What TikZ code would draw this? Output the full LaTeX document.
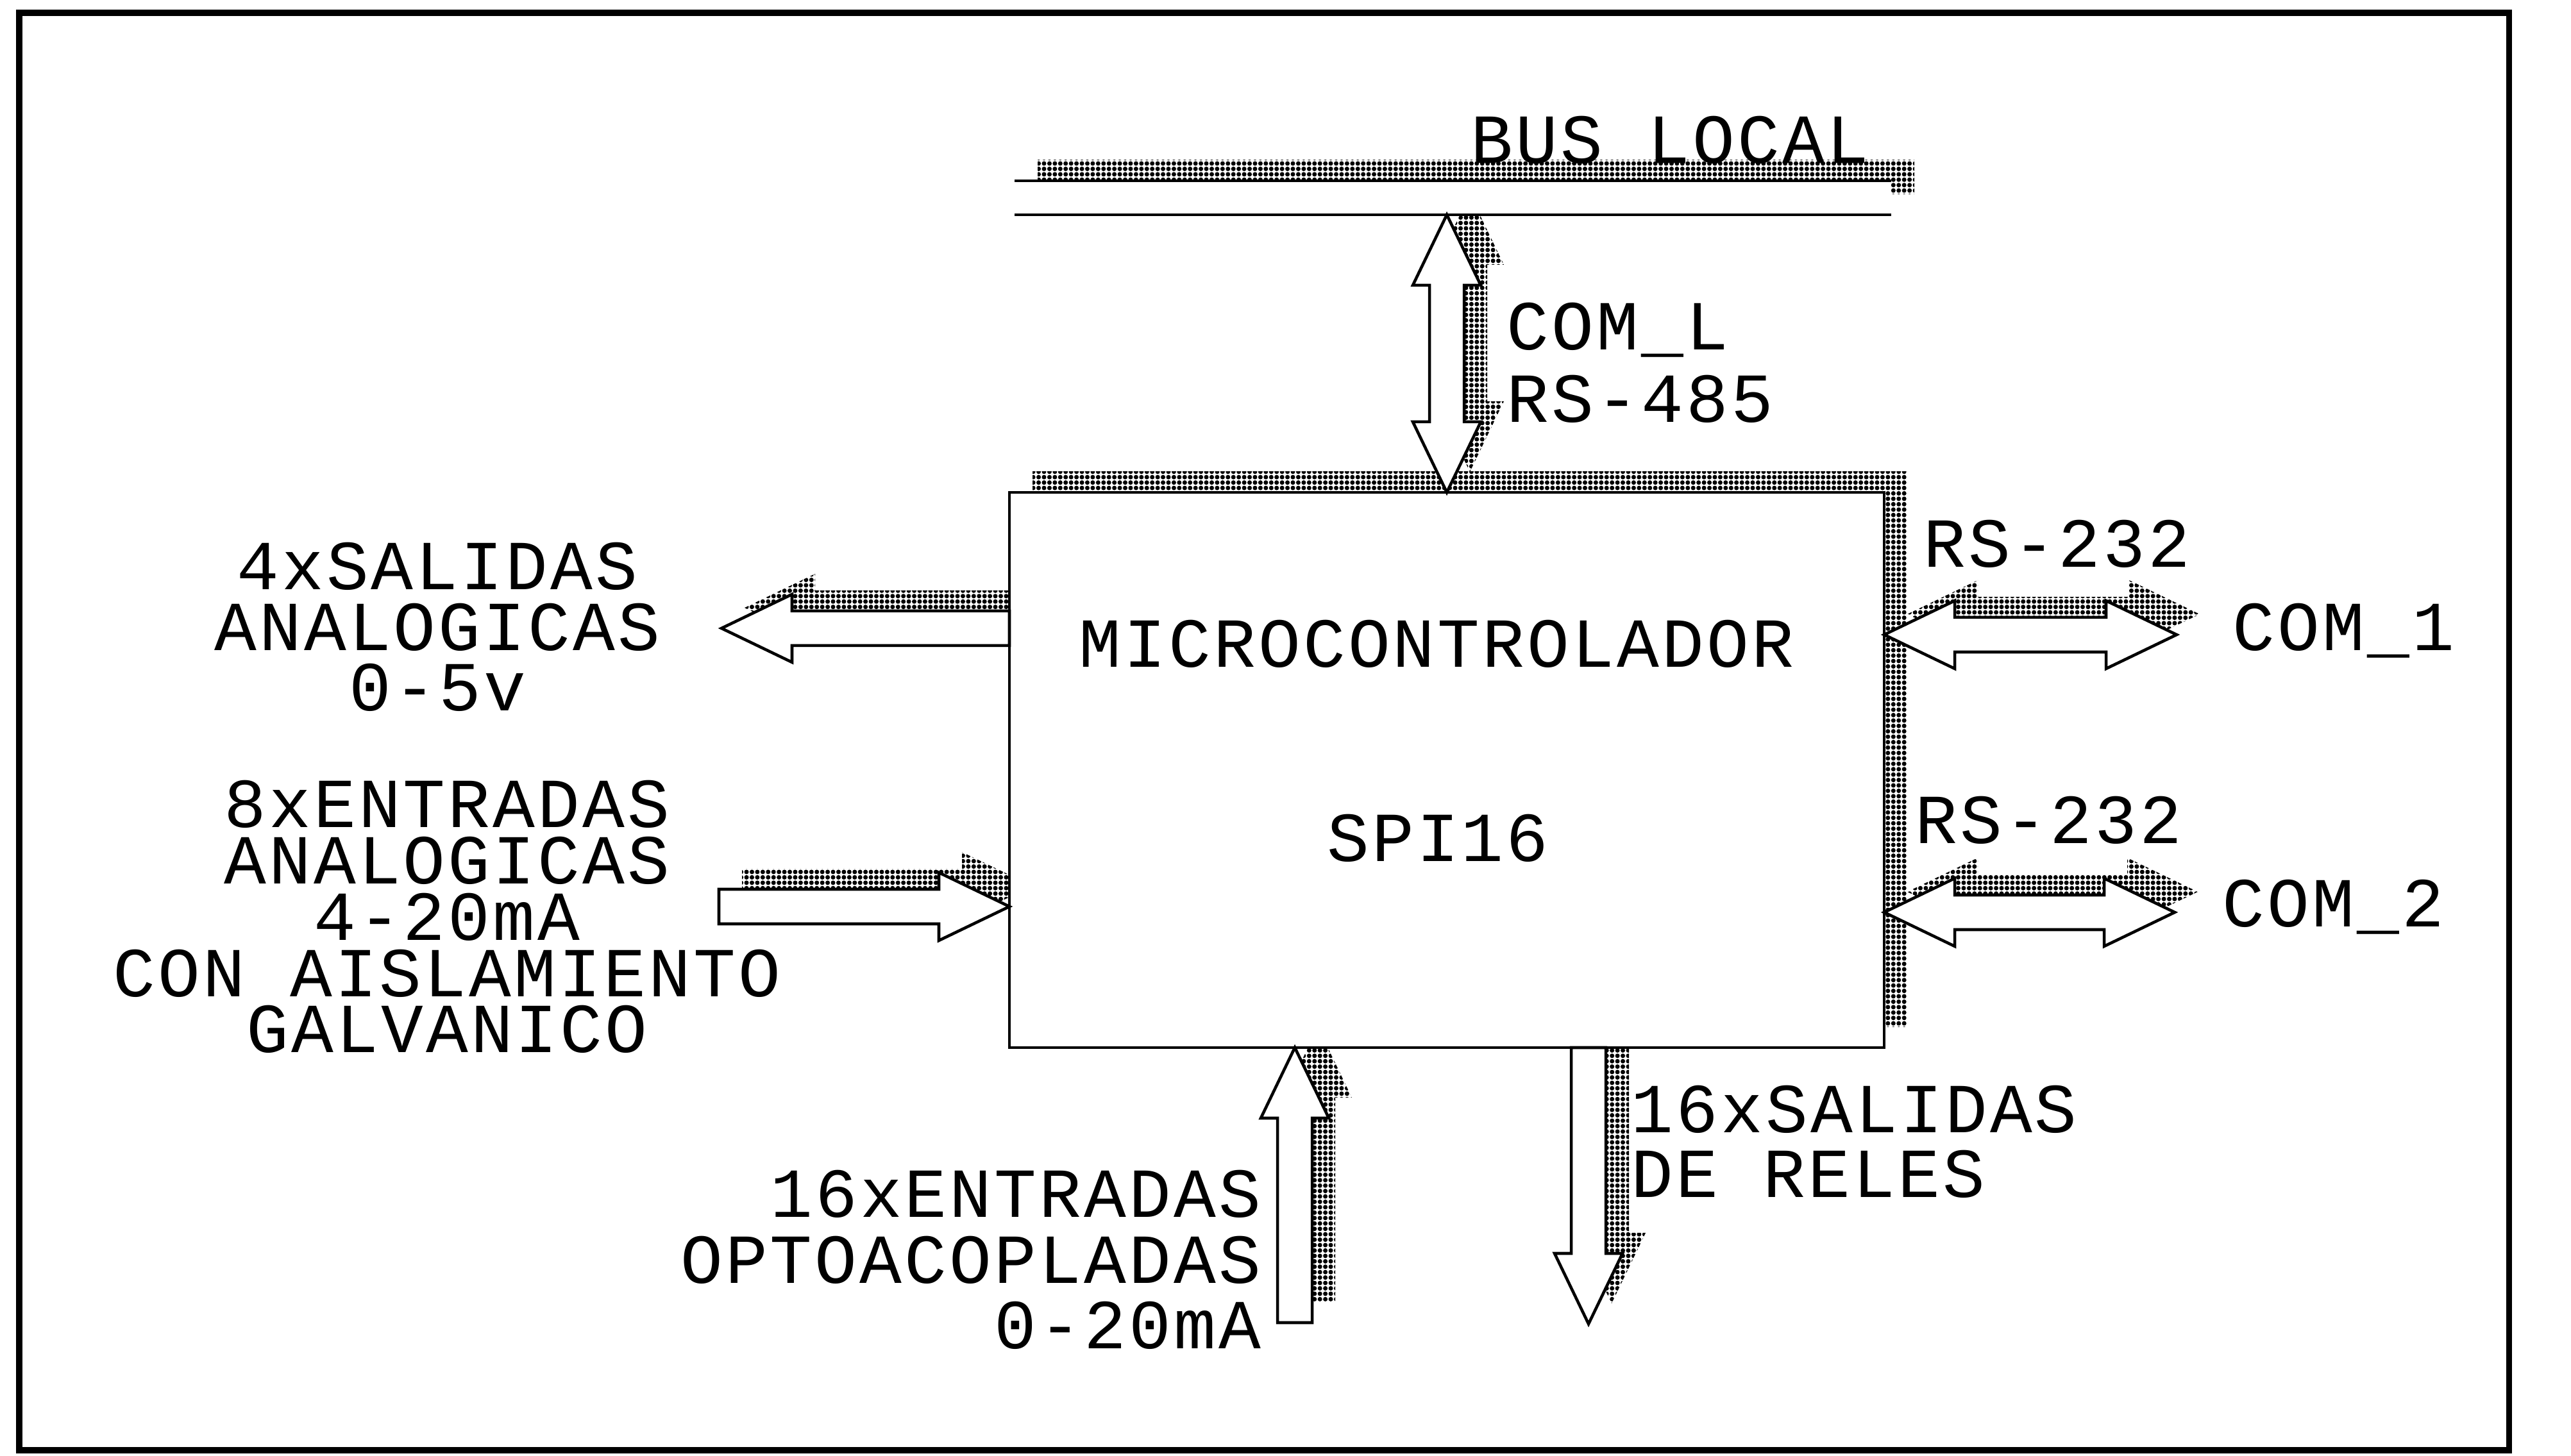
\documentclass[tikz,border=0pt]{standalone}
\usepackage{fontspec}
\setmainfont{Liberation Mono}[LetterSpace=3.8]
\usetikzlibrary{calc,patterns.meta}
\pgfdeclarelayer{shade}
\pgfsetlayers{shade,main}

\newcommand\ashaft{1.35mm}
\newcommand\ahead{2.65mm}
\newcommand\alen{5.5mm}

\newcommand\dropshade[1]{%
  \begin{pgfonlayer}{shade}\fill[dropfill] #1;\end{pgfonlayer}
  \filldraw[blk] #1;}

% #1 name, #2 tail, #3 tip
\newcommand\blockarrow[3]{%
  \coordinate (#1t1) at ($(#2)!\ashaft!90:(#3)$);
  \coordinate (#1b1) at ($(#3)!\alen!(#2)!\ashaft!90:(#3)$);
  \coordinate (#1h1) at ($(#3)!\alen!(#2)!\ahead!90:(#3)$);
  \coordinate (#1h2) at ($(#3)!\alen!(#2)!\ahead!-90:(#3)$);
  \coordinate (#1b2) at ($(#3)!\alen!(#2)!\ashaft!-90:(#3)$);
  \coordinate (#1t2) at ($(#2)!\ashaft!-90:(#3)$);
  \dropshade{(#1t1) -- (#1b1) -- (#1h1) -- (#3) -- (#1h2) -- (#1b2) -- (#1t2) -- cycle}}

% #1 name, #2 and #3 the two tips
\newcommand\blockdouble[3]{%
  \coordinate (#1p2) at ($(#2)!\alen!(#3)!\ahead!90:(#3)$);
  \coordinate (#1p3) at ($(#2)!\alen!(#3)!\ashaft!90:(#3)$);
  \coordinate (#1p4) at ($(#3)!\alen!(#2)!\ashaft!90:(#3)$);
  \coordinate (#1p5) at ($(#3)!\alen!(#2)!\ahead!90:(#3)$);
  \coordinate (#1p7) at ($(#3)!\alen!(#2)!\ahead!-90:(#3)$);
  \coordinate (#1p8) at ($(#3)!\alen!(#2)!\ashaft!-90:(#3)$);
  \coordinate (#1p9) at ($(#2)!\alen!(#3)!\ashaft!-90:(#3)$);
  \coordinate (#1p10) at ($(#2)!\alen!(#3)!\ahead!-90:(#3)$);
  \dropshade{(#2) -- (#1p2) -- (#1p3) -- (#1p4) -- (#1p5) -- (#3) -- (#1p7) -- (#1p8) -- (#1p9) -- (#1p10) -- cycle}}

\begin{document}
\begin{tikzpicture}[x=.5cm,y=.5cm,
    blk/.style={draw=black,fill=white,line width=.65pt},
    dropfill/.style={pattern={Dots[radius=.5pt,distance=1.2pt]},pattern color=black,
      transform canvas={xshift=1.8mm,yshift=1.6mm}},
    lbl/.style={font=\fontsize{15.6}{#1}\selectfont,inner sep=0pt},
    lbl/.default=14.5]
  \useasboundingbox (0,0) rectangle (40.09,22.71);
  \draw[line width=1.3pt] (.30,.09) rectangle (39.12,22.51);

  \node[minimum width=6.82cm,minimum height=4.33cm,inner sep=0pt,outer sep=0pt] (mcu) at (22.56,10.70) {};
  \dropshade{(mcu.south west) rectangle (mcu.north east)}

  \node[minimum width=6.835cm,minimum height=.265cm,inner sep=0pt,outer sep=0pt] (bus) at (22.655,19.625) {};
  \begin{pgfonlayer}{shade}\fill[dropfill] (bus.south west) rectangle (bus.north east);\end{pgfonlayer}
  \fill[white] (bus.south west) rectangle (bus.north east);
  \draw[line width=.65pt] (bus.north west) -- (bus.north east) (bus.south west) -- (bus.south east);

  \coordinate (comlA) at (mcu.north);
  \coordinate (comlB) at (mcu.north |- bus.south);
  \blockdouble{coml}{comlA}{comlB}

  \coordinate (aoutT) at (mcu.west |- 0,12.91);
  \coordinate (aoutP) at (11.25,12.91);
  \blockarrow{aout}{aoutT}{aoutP}
  \coordinate (ainT) at (11.21,8.57);
  \coordinate (ainP) at (mcu.west |- 0,8.57);
  \blockarrow{ain}{ainT}{ainP}
  \coordinate (dinT) at (20.19,2.08);
  \coordinate (dinP) at (20.19,0 |- mcu.south);
  \blockarrow{din}{dinT}{dinP}
  \coordinate (doutT) at (24.77,0 |- mcu.south);
  \coordinate (doutP) at (24.77,2.06);
  \blockarrow{dout}{doutT}{doutP}

  \coordinate (comaA) at (mcu.east |- 0,12.81);
  \coordinate (comaB) at (33.94,12.81);
  \blockdouble{coma}{comaA}{comaB}
  \coordinate (combA) at (mcu.east |- 0,8.48);
  \coordinate (combB) at (33.91,8.48);
  \blockdouble{comb}{combA}{combB}

  \node[lbl,anchor=base west] (buslbl) at (22.92,20.16) {BUS LOCAL};
  \node[lbl=16.2,anchor=base west,align=left] (comllbl) at (23.48,16.12) {COM\_L\\RS-485};
  \node[lbl,anchor=base west] (rsalbl) at (29.98,13.86) {RS-232};
  \node[lbl,anchor=base west] (comalbl) at (34.80,12.56) {COM\_1};
  \node[lbl,anchor=base west] (rsblbl) at (29.85,9.55) {RS-232};
  \node[lbl,anchor=base west] (comblbl) at (34.64,8.25) {COM\_2};
  \node[lbl,anchor=base] (mculbl) at (22.40,12.30) {MICROCONTROLADOR};
  \node[lbl,anchor=base] (spilbl) at (22.42,9.27) {SPI16};
  \node[lbl=13.5,anchor=base,align=center] (aoutlbl) at (6.82,11.62) {4xSALIDAS\\ANALOGICAS\\0-5v};
  \node[lbl=12.5,anchor=base,align=center] (ainlbl) at (6.97,6.29)
    {8xENTRADAS\\ANALOGICAS\\4-20mA\\CON AISLAMIENTO\\GALVANICO};
  \node[lbl=14.6,anchor=base east,align=right] (dinlbl) at (19.68,1.67) {16xENTRADAS\\OPTOACOPLADAS\\0-20mA};
  \node[lbl=14.5,anchor=base west,align=left] (doutlbl) at (25.42,4.03) {16xSALIDAS\\DE RELES};
\end{tikzpicture}
\end{document}
